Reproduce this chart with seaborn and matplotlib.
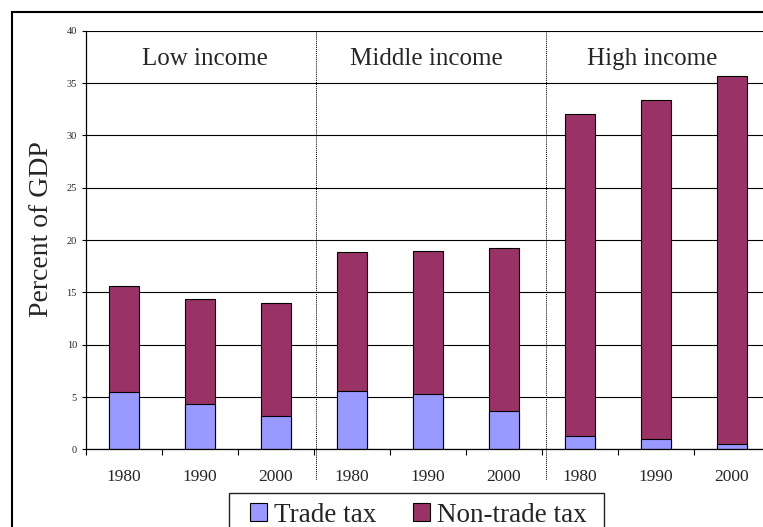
import numpy as np
import pandas as pd
import matplotlib
matplotlib.use("Agg")
import matplotlib.pyplot as plt
import seaborn as sns
from matplotlib.patches import Rectangle, Patch

# Tax revenue as percent of GDP, by income group and decade
groups = ["Low income", "Middle income", "High income"]
years = ["1980", "1990", "2000"]
trade_tax = [5.45, 4.37, 3.19, 5.61, 5.29, 3.67, 1.30, 0.95, 0.55]
non_trade_tax = [10.18, 9.99, 10.76, 13.21, 13.63, 15.55, 30.70, 32.45, 35.15]
y_ticks = [0, 5, 10, 15, 20, 25, 30, 35, 40]
series_names = ["Trade tax", "Non-trade tax"]

TRADE_COLOR = "#9999FF"
NONTRADE_COLOR = "#993366"

sns.set_style("white")
plt.rcParams["font.family"] = ["Liberation Serif", "DejaVu Serif"]

df = pd.DataFrame({
    "slot": range(len(trade_tax)),
    "group": np.repeat(groups, len(years)),
    "year": years * len(groups),
    "trade": trade_tax,
    "nontrade": non_trade_tax,
})
df["total"] = df["trade"] + df["nontrade"]

W, H = 763, 527
fig = plt.figure(figsize=(W / 100, H / 100), dpi=100)
ax = fig.add_axes([86 / W, 1 - 449.4 / H, 684 / W, 418.7 / H])

bar_kw = dict(width=0.4, edgecolor="black", linewidth=0.8, saturation=1, ax=ax)
# stacked bars: full height in the non-trade colour, trade share drawn over it
sns.barplot(data=df, x="slot", y="total", color=NONTRADE_COLOR, **bar_kw)
sns.barplot(data=df, x="slot", y="trade", color=TRADE_COLOR, **bar_kw)

ax.set_xlim(-0.5, 8.5)
ax.set_ylim(0, 40)
ax.set_axisbelow(True)
ax.yaxis.grid(True, color="black", linewidth=0.8)
ax.xaxis.grid(False)

for side in ["top", "right"]:
    ax.spines[side].set_visible(False)
for side in ["left", "bottom"]:
    ax.spines[side].set_color("black")
    ax.spines[side].set_linewidth(0.9)

ax.set_yticks(y_ticks)
ax.set_yticklabels([str(v) for v in y_ticks])
ax.tick_params(axis="y", which="major", direction="out", length=3, width=0.8,
               pad=3.5, labelsize=7.5, left=True, color="black")

ax.set_xticks(range(len(df)))
ax.set_xticklabels(df["year"])
ax.set_xticks(np.arange(-0.5, 8.0, 1.0), minor=True)
ax.tick_params(axis="x", which="major", length=0, pad=14, labelsize=12.5)
ax.tick_params(axis="x", which="minor", direction="out", length=4, width=0.8,
               bottom=True, color="black")
ax.set_xlabel("")
ax.set_ylabel("")

# dotted separators between income groups
for xs in [2.53, 5.55]:
    ax.plot([xs, xs], [40, -2.9], linestyle=(0, (1, 1)), color="black",
            linewidth=0.7, clip_on=False)

for gx, name in zip([1.066, 3.98, 6.95], groups):
    ax.text(gx, 36.7, name, ha="center", va="baseline", fontsize=18)

fig.text(42 / W, 1 - 229 / H, "Percent of GDP", rotation=90,
         ha="center", va="center", fontsize=20)

# outer frame
fig.add_artist(Rectangle((12 / W, -0.2), 1.3, 1.2 - 12 / H,
                         transform=fig.transFigure, fill=False,
                         edgecolor="black", linewidth=1.5, clip_on=False))

# legend box, running off the bottom edge
fig.add_artist(Rectangle((229.5 / W, -0.2), (604 - 229.5) / W,
                         0.2 + 1 - 492.7 / H, transform=fig.transFigure,
                         fill=True, facecolor="white", edgecolor="#222222",
                         linewidth=1.0, clip_on=False))

handles = [Patch(facecolor=TRADE_COLOR, edgecolor="black", linewidth=0.8),
           Patch(facecolor=NONTRADE_COLOR, edgecolor="black", linewidth=0.8)]
leg = fig.legend(handles, series_names, loc="upper left",
                 bbox_to_anchor=(250 / W, 1 - 502.5 / H), ncol=2,
                 frameon=False, fontsize=19.5, handlelength=0.63,
                 handleheight=0.63, handletextpad=0.24, columnspacing=1.37,
                 borderpad=0, borderaxespad=0)
leg.set_zorder(5)

fig.savefig("out.png", dpi=100)
